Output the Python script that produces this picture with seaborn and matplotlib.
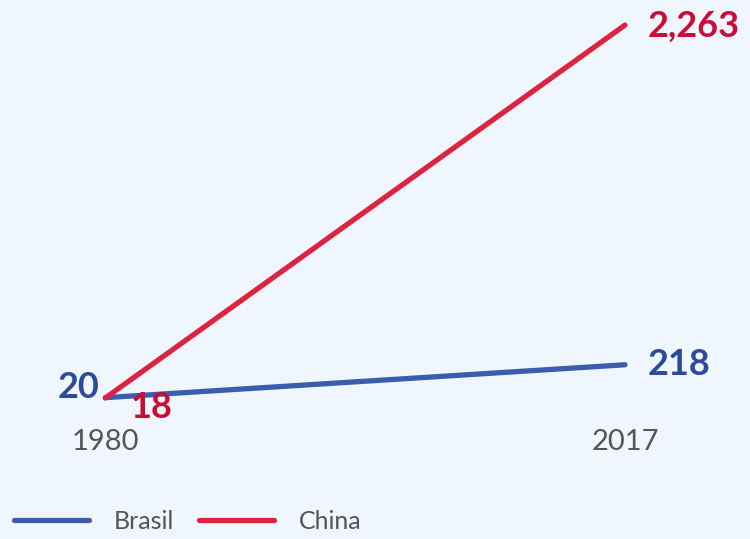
import matplotlib
matplotlib.use("Agg")
import matplotlib.pyplot as plt
import seaborn as sns
import pandas as pd

# Data
years = [1980, 2017]
countries = ["Brasil", "China"]
brasil_values = [20, 218]
china_values = [18, 2263]
value_labels = {"Brasil": ["20", "218"], "China": ["18", "2,263"]}

BG = "#F0F6FE"
palette = {"Brasil": "#3A5DAE", "China": "#DC2440"}
label_colors = {"Brasil": "#2C4A9C", "China": "#CC0C35"}

sns.set_theme(style="white")
plt.rcParams["font.family"] = ["Lato", "DejaVu Sans"]

df = pd.DataFrame({
    "year": years * 2,
    "value": brasil_values + china_values,
    "country": [countries[0]] * 2 + [countries[1]] * 2,
})

fig = plt.figure(figsize=(7.5, 5.39), dpi=100)
fig.patch.set_facecolor(BG)
ax = fig.add_axes([0, 0, 1, 1])
ax.set_facecolor(BG)

sns.lineplot(data=df, x="year", y="value", hue="country", palette=palette,
             linewidth=3.8, solid_capstyle="round", ax=ax)

# Axis limits place 1980 / 2017 and the value range inside the canvas
ax.set_xlim(1972.5, 2025.9)
ax.set_ylim(-831, 2414)
for s in ax.spines.values():
    s.set_visible(False)
ax.set_xticks([])
ax.set_yticks([])
ax.set_xlabel("")
ax.set_ylabel("")

# Year labels
for yr in years:
    ax.text(yr, -245, str(yr), ha="center", va="center", fontsize=21, color="#555555")

# Value labels
b0, b1 = brasil_values
c0, c1 = china_values
ax.text(years[0] - 0.4, b0 + 60, value_labels["Brasil"][0], ha="right", va="center",
        fontsize=26, fontweight="bold", color=label_colors["Brasil"])
ax.text(years[1] + 1.6, b1, value_labels["Brasil"][1], ha="left", va="center",
        fontsize=26, fontweight="bold", color=label_colors["Brasil"])
ax.text(years[0] + 3.3, c0 - 55, value_labels["China"][0], ha="center", va="center",
        fontsize=26, fontweight="bold", color=label_colors["China"])
ax.text(years[1] + 1.6, c1 - 10, value_labels["China"][1], ha="left", va="center",
        fontsize=26, fontweight="bold", color=label_colors["China"])

# Legend along the bottom
sns.move_legend(ax, "lower left", bbox_to_anchor=(-0.012, -0.03), ncol=2, frameon=False,
                title=None, fontsize=18, handlelength=3.0, handletextpad=1.0,
                columnspacing=1.0, labelcolor="#555555")

fig.savefig("out.png", dpi=100, facecolor=BG)
